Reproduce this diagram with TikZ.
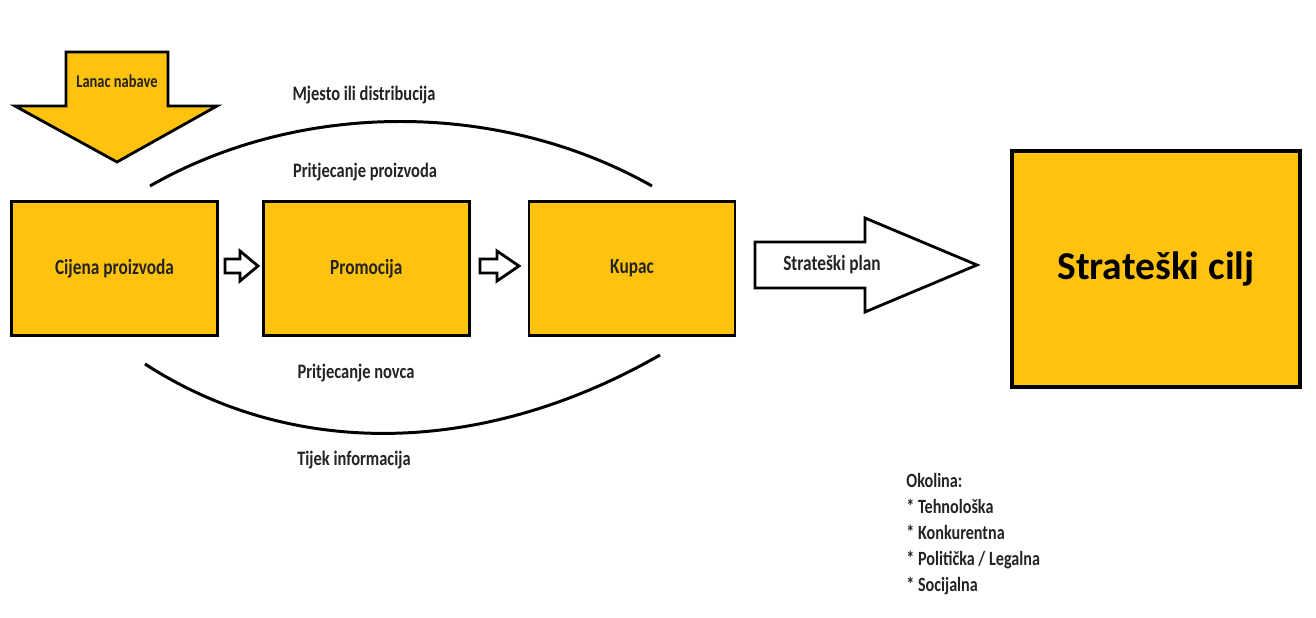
\documentclass[tikz,border=0pt]{standalone}
\usepackage{fontspec}
\setmainfont{Carlito}
\newfontfamily\narrowfont[FakeStretch=0.8]{Carlito}
\usetikzlibrary{positioning}
\definecolor{boxyellow}{RGB}{255,194,14}
\definecolor{inkgray}{RGB}{35,35,35}

\begin{document}
\begin{tikzpicture}[x=0.02cm,y=-0.02cm,
    box/.style={draw,line width=1.6pt,fill=boxyellow,minimum width=4.12cm,minimum height=2.68cm,
      text=inkgray,font=\narrowfont\bfseries\fontsize{12.3}{14}\selectfont},
    lbl/.style={text=inkgray,inner sep=0pt,font=\narrowfont\bfseries\fontsize{11.7}{14}\selectfont},
    blockarrow/.style={draw,line width=1.6pt,line join=miter},
    flow/.style={line width=1.7pt}]
  \useasboundingbox (0,0) rectangle (1316,618);

  % boxes
  \node[box] (cijena) at (114.5,268.5) {Cijena proizvoda};
  \node[box,right=0.86cm of cijena] (promocija) {Promocija};
  \node[box,right=1.14cm of promocija] (kupac) {Kupac};
  \node[box,line width=2pt,minimum width=5.76cm,minimum height=4.72cm,
    font=\bfseries\fontsize{22.5}{26}\selectfont,text=black] (cilj) at (1156,269) {Strateški cilj};

  % supply chain arrow
  \draw[blockarrow,fill=boxyellow] (66,52) -- (168,52) -- (168,106) -- (217,106) -- (117,162)
    -- (15,106) -- (66,106) -- cycle;
  \node[lbl,font=\narrowfont\bfseries\fontsize{10.3}{12}\selectfont] (lanac) at (117,81) {Lanac nabave};

  % small arrows between the boxes
  \draw[blockarrow,fill=white,shift={(225,266)}] (0,-7) -- (15,-7) -- (15,-15) -- (33,0)
    -- (15,15) -- (15,7) -- (0,7) -- cycle;
  \draw[blockarrow,fill=white,shift={(480,266)}] (0,-7) -- (17,-7) -- (17,-15) -- (39,0)
    -- (17,15) -- (17,7) -- (0,7) -- cycle;

  % plan arrow
  \draw[blockarrow,fill=white] (755,242) -- (865,242) -- (865,218) -- (977,265) -- (865,312)
    -- (865,288) -- (755,288) -- cycle;
  \node[lbl,font=\narrowfont\bfseries\fontsize{12.3}{14}\selectfont] (plan) at (832,265) {Strateški plan};

  % flows
  \coordinate (topl) at (150,186);
  \coordinate (topr) at (652,186);
  \coordinate (botl) at (145,364);
  \coordinate (botr) at (660,355);
  \draw[flow] (topl) .. controls (300,100) and (500,100) .. (topr);
  \draw[flow] (botl) .. controls (290,458) and (480,458) .. (botr);
  \node[lbl] (mjesto) at (364,95) {Mjesto ili distribucija};
  \node[lbl] (proizvod) at (365,172) {Pritjecanje proizvoda};
  \node[lbl] (novac) at (356,373) {Pritjecanje novca};
  \node[lbl] (info) at (354,460) {Tijek informacija};

  % environment
  \node[lbl,anchor=west,align=left,font=\narrowfont\bfseries\fontsize{11.5}{14.7}\selectfont] (okolina) at (906,534)
    {Okolina:\\* Tehnološka\\* Konkurentna\\* Politička / Legalna\\* Socijalna};
\end{tikzpicture}
\end{document}
